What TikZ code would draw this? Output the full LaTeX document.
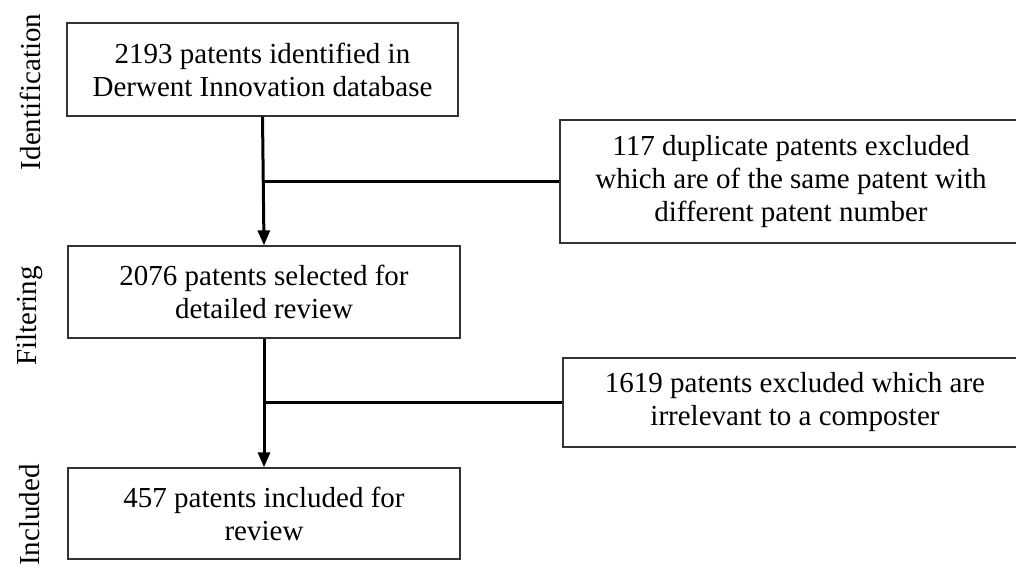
\documentclass[tikz,border=0pt]{standalone}
\usepackage{fontspec}
\setmainfont{Liberation Serif}
\usetikzlibrary{arrows.meta}

\begin{document}
\begin{tikzpicture}[x=1pt,y=-1pt,
  stage/.style={draw=black!80,line width=1.3pt,fill=white,align=center,inner sep=0pt,
    font=\fontsize{29}{33}\selectfont},
  side/.style={rotate=90,font=\fontsize{29}{33}\selectfont},
  flow/.style={line width=3pt,-{Triangle[length=15pt,width=12pt]}},
  branch/.style={line width=3pt}]
\def\boxw{392pt}
\useasboundingbox (0,0) rectangle (1016,567);
\clip (0,0) rectangle (1016,567);

\node[side] (ident) at (30,92) {Identification};
\node[side] (filt) at (30,316) {Filtering};
\node[side] (incl) at (30,515) {Included};

\node[stage,minimum width=391pt,minimum height=93pt] (found) at (262.5,69.5) {2193 patents identified in\\Derwent Innovation database};
\node[stage,minimum width=\boxw,minimum height=92pt] (screen) at (264,292) {2076 patents selected for\\detailed review};
\node[stage,minimum width=\boxw,minimum height=91pt] (kept) at (264,513.5) {457 patents included for\\review};

\node[stage,minimum width=462pt,minimum height=123pt] (dupl) at (791,181.5) {117 duplicate patents excluded\\which are of the same patent with\\different patent number};
\node[stage,minimum width=464pt,minimum height=89pt] (irrel) at (795,402.5) {1619 patents excluded which are\\irrelevant to a composter};

\coordinate (j1) at (found.south |- dupl.west);
\coordinate (j2) at (screen.south |- irrel.west);

\draw[flow] (found.south) -- (screen.north);
\draw[branch] (j1) -- (dupl.west);
\draw[flow] (screen.south) -- (kept.north);
\draw[branch] (j2) -- (irrel.west);

\end{tikzpicture}
\end{document}
